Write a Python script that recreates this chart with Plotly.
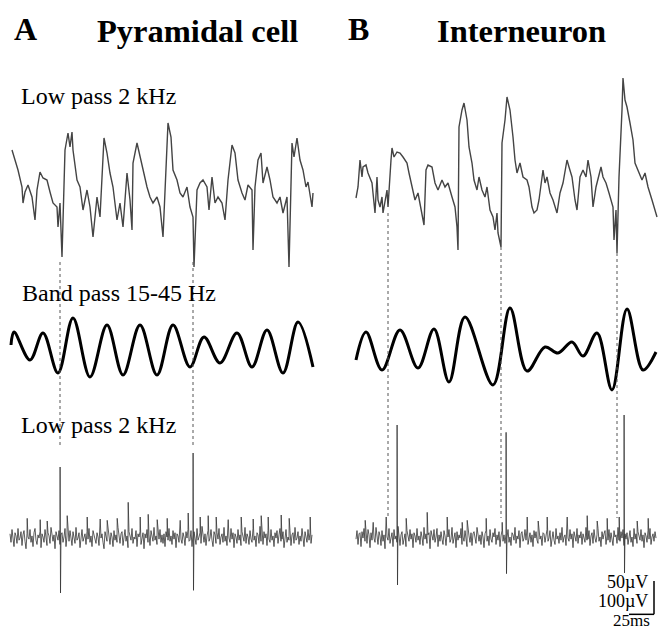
import plotly.graph_objects as go

# ---------------- data (time in ms, voltage in µV) ----------------
# Panel A - Pyramidal cell, wide-band LFP (low pass 2 kHz)
lfpA_t = [2,5,8,12,13,15,18,22,25,27,30,33,37,40,43,47,48,50,52,55,58,60,62,63,67,70,73,77,80,83,87,90,92,94,97,100,103,107,110,113,117,120,122,123,127,130,133,137,140,143,147,150,153,156,158,161,163,167,170,173,177,180,183,184,187,190,193,197,199,202,205,208,212,215,218,222,225,228,232,235,238,242,243,245,248,251,253,257,260,263,267,270,273,277,279,282,284,287,290,293,296,298,302,303]
lfpA_v = [150,120,90,39,-9,24,45,9,-60,30,84,66,60,24,-9,-21,-81,-9,-171,150,201,159,204,150,60,39,-30,30,-21,-111,9,-51,90,186,141,81,39,-60,-9,-81,81,0,-90,111,171,129,90,39,9,-9,9,-21,-111,69,231,189,90,60,21,9,39,-21,-51,-201,30,51,60,39,-30,69,-9,9,-9,-60,60,165,141,60,21,0,45,30,-150,39,120,141,51,99,60,9,-9,9,-39,9,-201,171,129,186,120,90,39,54,-21,21]

# Panel A - band pass 15-45 Hz (extrema)
bpA_t = [1,4,20,33,48,63,80,97,113,130,147,163,180,194,210,227,242,257,273,288,303]
bpA_v = [15,54,-30,51,-69,96,-81,75,-75,75,-75,75,-51,39,-39,51,-51,60,-69,84,-51]

# Panel A - unit trace: background noise every 1 ms (t = 0 .. 302), in units of NOISE_UV
unitA_noise = [3,-5,7,-2,-9,4,1,-6,8,-3,
               -1,5,-8,2,6,-4,-11,3,0,-2,
               7,-5,1,-9,4,8,-3,-7,2,-1,
               5,-10,3,0,-5,7,-2,-8,4,1,
               -6,9,-1,-4,2,-11,5,-1,-3,6,
               -7,2,4,-5,0,8,-9,1,3,-4,
               6,-2,-8,5,0,-6,9,-3,-1,4,
               -10,2,7,-4,0,3,-7,5,-2,8,
               -5,1,-9,6,2,-3,-6,4,0,-8,
               7,-1,3,-5,-11,5,1,-4,8,-2,
               -7,4,0,-9,6,-3,2,-5,9,-1,
               -6,3,5,-8,-2,7,-4,1,-10,5,
               2,-3,8,-6,0,-2,6,-9,3,0,
               5,-7,1,4,-11,3,-1,7,-5,2,
               -8,6,0,-4,9,-3,1,-7,4,-2,
               7,-5,2,-6,3,-9,5,0,-3,8,
               -4,1,-7,6,-2,4,-10,3,1,-5,
               9,-2,-6,4,0,-8,5,-1,7,-4,
               -3,6,-9,2,5,-1,-7,8,-3,0,
               4,-6,10,-2,-5,3,-8,1,6,-4,
               -1,7,-3,-9,5,2,-6,4,-2,8,
               -7,0,3,-5,9,-4,1,-8,6,-1,
               -5,8,-2,4,-10,3,0,-6,7,-3,
               2,-8,5,-1,-4,9,-6,3,0,-7,
               6,-2,-5,8,-3,1,-9,4,2,-6,
               10,-4,0,-7,5,-1,3,-8,6,-2,
               -5,7,-3,1,-9,4,-1,6,-6,2,
               8,-4,-2,5,-10,3,7,-5,0,-3,
               6,-8,2,4,-6,9,-3,-1,5,-7,
               1,-4,8,-2,-9,5,0,-5,7,-3,
               4,-6,2]
unitA_t0 = 0
smallA_t = [17,30,37,57,77,90,97,107,118,130,138,147,157,170,178,190,198,206,218,231,243,251,258,271,279,300]
smallA_h = [28,26,24,32,30,27,25,28,52,30,34,26,28,25,36,30,32,30,26,30,27,32,30,33,28,30]
spikeA_t = [50,183]
spikeA_up = [105,126]
spikeA_down = [-84,-80]
eventsA = [50,183]

# Panel B - Interneuron, wide-band LFP
lfpB_t = [1,3,5,7,8,11,13,17,18,20,22,23,25,27,28,30,32,33,34,36,37,39,42,45,48,52,54,57,60,63,67,69,71,73,77,80,83,87,90,93,97,100,102,103,104,107,109,112,114,117,119,122,124,127,130,132,135,138,140,142,143,146,147,150,152,155,158,160,162,165,168,172,174,177,179,182,184,188,190,192,195,198,202,205,208,212,214,217,220,222,225,228,231,233,236,238,241,243,246,248,251,254,258,259,261,262,264,267,268,270,272,275,278,280,283,287,290,293,297,300,302]
lfpB_v = [6,39,120,69,99,105,81,51,21,-39,69,0,-21,9,-39,0,30,-21,39,120,156,129,144,141,129,111,81,39,0,21,-39,-75,90,105,99,51,30,60,39,51,9,-21,-81,-150,219,270,291,240,159,111,60,30,69,30,9,39,-30,-51,-90,-39,-99,-141,171,240,309,270,189,120,81,111,69,60,39,-21,-39,-30,0,90,51,69,21,0,-39,21,51,120,99,69,0,-30,69,90,69,120,69,-21,39,60,99,69,51,21,-21,-120,-30,-159,69,270,366,300,279,231,180,111,90,60,81,39,0,-30,-51]

# Panel B - band pass 15-45 Hz (extrema)
bpB_t = [1,11,27,45,63,79,94,110,138,155,172,190,203,217,228,242,257,272,288,301]
bpB_v = [-30,54,-60,60,-54,63,-96,99,-105,126,-63,9,-9,24,-18,51,-120,123,-60,-6]

# Panel B - unit trace: background noise every 1 ms (t = 1 .. 301), in units of NOISE_UV
unitB_noise = [-2,6,-7,3,4,-9,5,-1,8,-4,
               0,-6,7,2,-10,4,-3,9,-1,-5,
               9,-2,-7,5,1,-8,6,-4,2,-11,
               5,0,-3,8,-6,-1,4,-9,7,-2,
               1,-5,10,-3,-8,2,5,-7,0,3,
               -9,6,-1,-4,7,-2,3,-10,4,1,
               -5,8,-3,1,-7,5,0,-8,9,-2,
               3,-6,2,4,-11,6,-1,-3,7,-5,
               0,8,-9,2,-4,5,-2,-7,6,1,
               -8,3,0,7,-5,-2,9,-6,1,4,
               -10,5,-3,2,-1,8,-7,0,-4,6,
               -2,-9,7,1,-5,4,-8,3,5,-3,
               -6,9,-1,-4,2,-7,5,0,-10,3,
               6,-4,1,-8,7,-2,-5,4,0,8,
               -7,2,-3,5,-9,1,6,-4,2,-6,
               3,-1,7,-5,0,-8,4,2,-3,9,
               -6,1,-2,6,-10,3,5,-4,-1,7,
               -3,8,-7,0,4,-5,2,-9,6,-1,
               5,-3,-6,9,-2,1,-8,4,3,-5,
               0,7,-4,-1,6,-9,2,5,-3,-7,
               8,-2,1,-6,4,-3,9,-5,0,2,
               -8,6,-1,-4,7,-2,3,-10,5,1,
               -4,8,-6,2,-1,5,-7,3,0,-5,
               9,-3,-2,6,-8,1,4,-6,7,-1,
               -5,2,8,-4,0,-9,5,-2,3,6,
               -7,1,-3,7,-5,4,-1,-8,6,0,
               2,-6,9,-3,-4,5,-1,7,-8,3,
               -2,4,-7,1,6,-5,0,-9,8,-2,
               3,-6,5,-1,-3,7,-4,2,-10,4,
               1,-5,6,-2,8,-7,0,3,-4,5,
               -1]
unitB_t0 = 1
smallB_t = [10,18,31,51,72,92,107,112,131,147,172,183,192,212,232,242,252,264,282,293]
smallB_h = [25,22,30,28,37,30,22,25,28,22,30,24,30,30,32,24,28,30,24,28]
spikeB_t = [42,151,269]
spikeB_up = [168,157,183]
spikeB_down = [-72,-55,-54]
eventsB = [33,146,262]

NOISE_DT = 1      # ms between noise samples
NOISE_UV = 1.6    # µV per listed noise unit
SCALE_MS = 25
SCALE_UV = 50

# ---------------- helpers ----------------
def unit_trace(noise, t0, st, sh, bt, bu, bd):
    pts = [(t0 + i * NOISE_DT, v * NOISE_UV) for i, v in enumerate(noise)]
    pts += [(t + 0.2, h) for t, h in zip(st, sh)]
    for t, u, d in zip(bt, bu, bd):
        pts += [(t + 0.1, u), (t + 0.5, d)]
    pts.sort()
    return [p[0] for p in pts], [p[1] for p in pts]

W, H = 658, 631
SERIF = "Liberation Serif, Times New Roman, serif"
LFP_C = "#444444"
UNIT_C = "#333333"

fig = go.Figure()

# Panel A
fig.add_trace(go.Scatter(x=lfpA_t, y=lfpA_v, xaxis="x", yaxis="y", mode="lines",
                         line=dict(color=LFP_C, width=1.4)))
fig.add_trace(go.Scatter(x=bpA_t, y=bpA_v, xaxis="x", yaxis="y2", mode="lines",
                         line=dict(color="black", width=3, shape="spline", smoothing=1.0)))
ta, va = unit_trace(unitA_noise, unitA_t0, smallA_t, smallA_h, spikeA_t, spikeA_up, spikeA_down)
fig.add_trace(go.Scatter(x=ta, y=va, xaxis="x", yaxis="y3", mode="lines",
                         line=dict(color=UNIT_C, width=0.8)))
# Panel B
fig.add_trace(go.Scatter(x=lfpB_t, y=lfpB_v, xaxis="x2", yaxis="y", mode="lines",
                         line=dict(color=LFP_C, width=1.4)))
fig.add_trace(go.Scatter(x=bpB_t, y=bpB_v, xaxis="x2", yaxis="y2", mode="lines",
                         line=dict(color="black", width=3, shape="spline", smoothing=1.0)))
tb, vb = unit_trace(unitB_noise, unitB_t0, smallB_t, smallB_h, spikeB_t, spikeB_up, spikeB_down)
fig.add_trace(go.Scatter(x=tb, y=vb, xaxis="x2", yaxis="y3", mode="lines",
                         line=dict(color=UNIT_C, width=0.8)))

shapes = []
# dotted alignment lines
A_top, A_bot = 1 - 262 / H, 1 - 448 / H
for t in eventsA:
    shapes.append(dict(type="line", xref="x", yref="paper", x0=t, x1=t, y0=A_top, y1=A_bot,
                       line=dict(color="#555", width=1, dash="dot")))
B_tops = [1 - 213 / H, 1 - 247 / H, 1 - 253 / H]
B_bot = 1 - 518 / H
for t, top in zip(eventsB, B_tops):
    shapes.append(dict(type="line", xref="x2", yref="paper", x0=t, x1=t, y0=top, y1=B_bot,
                       line=dict(color="#555", width=1, dash="dot")))
# scale bar (on B unit axis)
sb_t1 = 299
sb_t0 = sb_t1 - SCALE_MS
sb_v0 = -116
sb_v1 = sb_v0 + SCALE_UV
shapes.append(dict(type="line", xref="x2", yref="y3", x0=sb_t1, x1=sb_t1, y0=sb_v0, y1=sb_v1,
                   line=dict(color="black", width=1.5)))
shapes.append(dict(type="line", xref="x2", yref="y3", x0=sb_t0, x1=sb_t1, y0=sb_v0, y1=sb_v0,
                   line=dict(color="black", width=1.5)))

ann = []
def txt(s, x, y, size, bold=False, xanchor="center", xref="paper", yref="paper"):
    ann.append(dict(text=("<b>%s</b>" % s) if bold else s, x=x, y=y, xref=xref, yref=yref,
                    xanchor=xanchor, yanchor="middle", showarrow=False,
                    font=dict(family=SERIF, size=size, color="black")))

txt("A", 25 / W, 1 - 29 / H, 32, True)
txt("Pyramidal cell", 197 / W, 1 - 31 / H, 32.5, True)
txt("B", 358 / W, 1 - 29 / H, 32, True)
txt("Interneuron", 521 / W, 1 - 31 / H, 32.5, True)
txt("Low pass 2 kHz", 19 / W, 1 - 96 / H, 24, xanchor="left")
txt("Band pass 15-45 Hz", 20 / W, 1 - 293 / H, 24, xanchor="left")
txt("Low pass 2 kHz", 19 / W, 1 - 425 / H, 24, xanchor="left")
txt("50µV", sb_t1 - 4, sb_v1 - 2, 18, xanchor="right", xref="x2", yref="y3")
txt("100µV", sb_t1 - 4, sb_v1 - 30, 18, xanchor="right", xref="x2", yref="y3")
txt("25ms", sb_t0 + 2, sb_v0 - 9, 17, xref="x2", yref="y3")

ax = dict(visible=False, domain=[0, 1], fixedrange=True)
fig.update_layout(
    width=W, height=H, margin=dict(l=0, r=0, t=0, b=0),
    paper_bgcolor="white", plot_bgcolor="rgba(0,0,0,0)", showlegend=False,
    xaxis=dict(ax, range=[-10, W - 10]),
    xaxis2=dict(ax, range=[-355, W - 355], overlaying="x"),
    yaxis=dict(ax, range=[(200 - H) * 3, 200 * 3]),
    yaxis2=dict(ax, range=[(350 - H) * 3, 350 * 3], overlaying="y"),
    yaxis3=dict(ax, range=[(537 - H) * 1.5, 537 * 1.5], overlaying="y"),
    shapes=shapes, annotations=ann,
)
fig.write_html("out.html")
